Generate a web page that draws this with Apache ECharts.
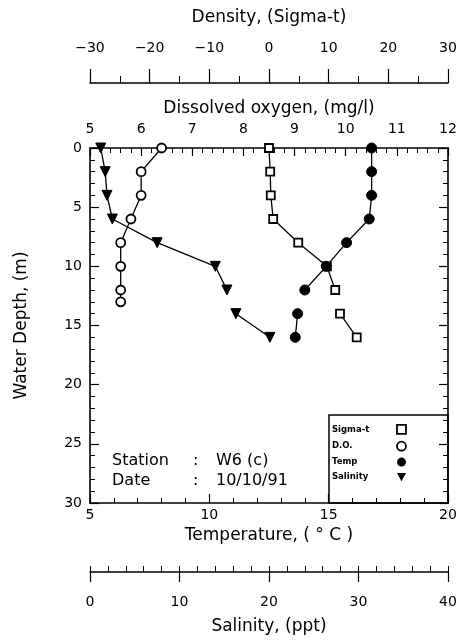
<!DOCTYPE html>
<html><head><meta charset="utf-8">
<script src="https://cdn.jsdelivr.net/npm/echarts@6/dist/echarts.min.js"></script>
<style>html,body{margin:0;padding:0;background:#fff}#c{width:460px;height:643px}</style>
</head><body><div id="c"></div>
<script>
// Depth levels (m); null entries mark gaps in the profiles
const depth = [0, 2, 4, 6, 8, 10, 12, 13, 14, 16];
const sigmaT = [0.0, 0.2, 0.3, 0.7, 4.9, 9.7, 11.1, null, 11.9, 14.7];
const temperature = [16.8, 16.8, 16.8, 16.7, 15.75, 14.9, 14.0, null, 13.7, 13.6];
const salinity = [1.2, 1.7, 1.9, 2.5, 7.5, 14.0, 15.3, null, 16.3, 20.1];
const doDepth = [0, 2, 4, 6, 8, 10, 12, 13];
const dissolvedOxygen = [6.4, 6.0, 6.0, 5.8, 5.6, 5.6, 5.6, 5.6];
const legendNames = ['Sigma-t', 'D.O.', 'Temp', 'Salinity'];
const stationLines = [['Station', ':', 'W6 (c)'], ['Date', ':', '10/10/91']];

const FONT = 'DejaVu Sans';
const pairs = (vals, d) => vals.map((v, i) => v === null ? ['-', d[i]] : [v, d[i]]);
const tri = 'path://M0,0 L10,0 L5,9 Z';
const lbl = {color: '#000', fontFamily: FONT, fontSize: 14, formatter: v => String(v).replace('-', '\u2212')};
const line = {onZero: false, lineStyle: {color: '#000', width: 1.6}};
const nameStyle = {color: '#000', fontFamily: FONT, fontSize: 17};

const chart = echarts.init(document.getElementById('c'), null, {renderer: 'canvas'});
const baseX = {type: 'value', splitLine: {show: false}, axisLine: line, nameTextStyle: nameStyle, axisLabel: lbl};

chart.setOption({
  backgroundColor: '#fff',
  animation: false,
  grid: {left: 90, right: 12, top: 148, bottom: 140},
  xAxis: [
    Object.assign({}, baseX, {position: 'bottom', min: 5, max: 20, interval: 5,
      name: 'Temperature, ( ° C )', nameLocation: 'middle', nameGap: 23,
      axisTick: {inside: true, length: 9, lineStyle: {color: '#000', width: 1.2}},
      minorTick: {show: true, splitNumber: 5, length: 5, lineStyle: {color: '#000'}},
      axisLabel: Object.assign({}, lbl, {margin: 5})}),
    Object.assign({}, baseX, {position: 'top', min: 5, max: 12, interval: 1,
      name: 'Dissolved oxygen, (mg/l)', nameLocation: 'middle', nameGap: 29,
      axisTick: {inside: true, length: 8, lineStyle: {color: '#000', width: 1.2}},
      minorTick: {show: true, splitNumber: 5, length: 5, lineStyle: {color: '#000'}},
      axisLabel: Object.assign({}, lbl, {margin: 12})}),
    Object.assign({}, baseX, {position: 'top', offset: 65, min: -30, max: 30, interval: 10,
      name: 'Density, (Sigma-t)', nameLocation: 'middle', nameGap: 57,
      axisTick: {inside: false, length: 14, lineStyle: {color: '#000', width: 1.2}},
      minorTick: {show: true, splitNumber: 2, length: 7, lineStyle: {color: '#000'}},
      axisLabel: Object.assign({}, lbl, {margin: 28})}),
    Object.assign({}, baseX, {position: 'bottom', offset: 69, min: 0, max: 40, interval: 10,
      name: 'Salinity, (ppt)', nameLocation: 'middle', nameGap: 46,
      axisTick: {inside: false, length: 10, lineStyle: {color: '#000', width: 1.2}},
      axisLabel: Object.assign({}, lbl, {margin: 23})}),
    Object.assign({}, baseX, {position: 'bottom', offset: 69, min: 0, max: 40, interval: 2,
      axisLine: {show: false, onZero: false}, axisLabel: {show: false},
      axisTick: {inside: true, length: 6, lineStyle: {color: '#000', width: 1}}})
  ],
  yAxis: [
    {type: 'value', inverse: true, min: 0, max: 30, interval: 5, position: 'left',
      name: 'Water Depth, (m)', nameLocation: 'middle', nameGap: 60, nameRotate: 90,
      nameTextStyle: nameStyle,
      splitLine: {show: false}, axisLine: line,
      axisTick: {inside: true, length: 9, lineStyle: {color: '#000', width: 1.2}},
      minorTick: {show: true, splitNumber: 5, length: 5, lineStyle: {color: '#000'}},
      axisLabel: Object.assign({}, lbl, {margin: 8})},
    {type: 'value', inverse: true, min: 0, max: 30, interval: 5, position: 'right',
      splitLine: {show: false}, axisLine: line, axisLabel: {show: false},
      axisTick: {inside: true, length: 9, lineStyle: {color: '#000', width: 1.2}},
      minorTick: {show: true, splitNumber: 5, length: 5, lineStyle: {color: '#000'}}}
  ],
  legend: {
    orient: 'vertical', left: 332, top: 424, padding: 0, itemGap: 6,
    align: 'right', itemWidth: 9, itemHeight: 9,
    formatter: n => '{n|' + n + '}',
    textStyle: {rich: {n: {width: 60, align: 'left', fontSize: 8.5, fontWeight: 'bold', fontFamily: FONT, color: '#000', lineHeight: 10}}},
    data: [
      {name: legendNames[0], icon: 'rect', itemStyle: {color: '#fff', borderColor: '#000', borderWidth: 1.8}},
      {name: legendNames[1], icon: 'circle', itemStyle: {color: '#fff', borderColor: '#000', borderWidth: 1.8}},
      {name: legendNames[2], icon: 'circle', itemStyle: {color: '#000', borderColor: '#000', borderWidth: 0}},
      {name: legendNames[3], icon: tri, itemStyle: {color: '#000', borderColor: '#000', borderWidth: 0}}
    ]
  },
  graphic: [
    {type: 'rect', shape: {x: 329, y: 415, width: 119, height: 88}, style: {fill: 'none', stroke: '#000', lineWidth: 1.5}, z: 10},
    ...stationLines.flatMap((row, r) => [
      {type: 'text', left: 112, top: 453 + r * 20, style: {text: row[0], font: '16px ' + FONT, fill: '#000'}},
      {type: 'text', left: 193, top: 453 + r * 20, style: {text: row[1], font: '16px ' + FONT, fill: '#000'}},
      {type: 'text', left: 216, top: 453 + r * 20, style: {text: row[2], font: '16px ' + FONT, fill: '#000'}}
    ])
  ],
  series: [
    {name: legendNames[0], type: 'line', xAxisIndex: 2, data: pairs(sigmaT, depth), symbol: 'rect', symbolSize: 8,
      itemStyle: {color: '#fff', borderColor: '#000', borderWidth: 1.8}, lineStyle: {color: '#000', width: 1.3}, connectNulls: false},
    {name: legendNames[1], type: 'line', xAxisIndex: 1, data: pairs(dissolvedOxygen, doDepth), symbol: 'circle', symbolSize: 9,
      itemStyle: {color: '#fff', borderColor: '#000', borderWidth: 1.8}, lineStyle: {color: '#000', width: 1.3}},
    {name: legendNames[2], type: 'line', xAxisIndex: 0, data: pairs(temperature, depth), symbol: 'circle', symbolSize: 10,
      itemStyle: {color: '#000', borderColor: '#000'}, lineStyle: {color: '#000', width: 1.3}, connectNulls: false},
    {name: legendNames[3], type: 'line', xAxisIndex: 3, data: pairs(salinity, depth), symbol: tri, symbolSize: 10,
      itemStyle: {color: '#000', borderColor: '#000'}, lineStyle: {color: '#000', width: 1.3}, connectNulls: false}
  ]
});
</script></body></html>
